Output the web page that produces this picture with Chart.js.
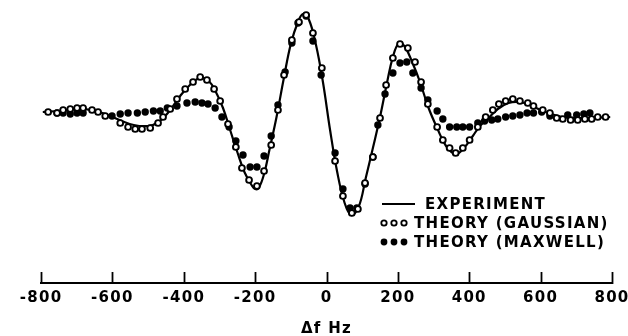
<!DOCTYPE html>
<html>
<head>
<meta charset="utf-8">
<script src="https://cdn.jsdelivr.net/npm/chart.js@4.4.1/dist/chart.umd.min.js"></script>
<style>
html,body{margin:0;padding:0;background:#fff;}
#c{display:block;}
</style>
</head>
<body>
<canvas id="c" width="628" height="336"></canvas>
<script>
// x tick labels (Hz)
const xTicks = [-800, -600, -400, -200, 0, 200, 400, 600, 800];

// Experiment (solid line)
const expHz = [-795,-750,-700,-660,-620,-580,-540,-500,-470,-440,-410,-380,-354,-330,-310,-290,-270,-250,-230,-210,-200,-190,-175,-160,-140,-120,-100,-80,-66,-50,-30,-10,10,30,50,69,90,110,130,150,170,186,203,220,240,262,285,310,335,362,385,410,430,457,480,510,540,570,600,630,660,700,740,795];
const expVal = [0,1,3,2,-2,-8,-13,-14,-10,1,16,28,34,31,20,4,-18,-40,-60,-73,-77,-76,-62,-38,-5,33,68,90,98,93,68,30,-18,-60,-90,-103,-95,-66,-36,-5,30,55,69,65,50,30,5,-16,-34,-42,-36,-24,-14,-5,3,9,10,7,2,-2,-5,-6,-6,-5];

// Theory (Gaussian) – open circles
const gaussHz = [-780,-755,-738,-718,-699,-682,-657,-640,-620,-578,-556,-536,-517,-494,-472,-458,-438,-419,-396,-374,-354,-335,-315,-298,-276,-254,-237,-217,-195,-175,-155,-136,-119,-97,-77,-57,-38,-13,24,46,71,88,108,130,150,167,186,206,228,248,265,284,310,326,345,362,382,401,424,446,466,483,502,522,542,564,580,606,626,645,662,684,704,724,743,760,782];
const gaussVal = [0,-1,2,3,4,4,2,0,-4,-11,-15,-17,-17,-16,-11,-5,3,13,23,30,35,32,23,11,-12,-35,-56,-68,-74,-59,-33,2,37,72,90,97,79,44,-49,-84,-101,-97,-71,-45,-6,27,54,68,64,50,30,8,-15,-28,-36,-41,-36,-28,-15,-5,2,8,11,13,11,9,6,2,-1,-6,-7,-8,-8,-7,-7,-5,-5];

// Theory (Maxwell) – filled circles
const maxHz = [-755,-738,-718,-699,-682,-601,-578,-556,-530,-508,-485,-466,-446,-419,-391,-368,-349,-332,-312,-293,-273,-254,-234,-214,-195,-175,-155,-136,-116,-97,-80,-57,-38,-15,24,46,66,85,108,130,144,164,186,206,225,242,265,284,310,326,345,365,382,401,424,443,463,480,502,522,542,562,580,603,626,676,701,721,738];
const maxVal = [-1,-1,-2,-1,-1,-4,-2,-1,-1,0,1,1,4,6,9,10,9,8,4,-5,-15,-29,-43,-55,-55,-44,-24,7,40,69,89,96,71,37,-41,-77,-96,-96,-72,-45,-13,18,39,49,50,39,24,12,1,-7,-15,-15,-15,-15,-11,-9,-8,-7,-5,-4,-3,-1,-1,0,-4,-3,-3,-2,-1];

const legendLabels = ['EXPERIMENT', 'THEORY (GAUSSIAN)', 'THEORY (MAXWELL)'];
const axisTitle = 'Δf Hz';

const pts = (xs, ys) => xs.map((x, i) => ({x: x, y: ys[i]}));
const FONT = 'DejaVu Sans';
const SPACING = '1.3px';

const spacingPlugin = {
  id: 'spacing',
  beforeUpdate(chart){ chart.ctx.letterSpacing = SPACING; },
  beforeLayout(chart){ chart.ctx.letterSpacing = SPACING; },
  beforeDraw(chart){ chart.ctx.letterSpacing = SPACING; }
};

const decorPlugin = {
  id: 'decor',
  afterDraw(chart){
    const ctx = chart.ctx;
    const xs = chart.scales.x;
    ctx.save();
    ctx.strokeStyle = '#000';
    ctx.lineWidth = 1.8;
    // inward (upward) tick marks
    xTicks.forEach(v => {
      const px = Math.round(xs.getPixelForValue(v)) + 0.5;
      ctx.beginPath();
      ctx.moveTo(px, xs.top - 11);
      ctx.lineTo(px, xs.top + 1);
      ctx.stroke();
    });
    // legend
    ctx.letterSpacing = SPACING;
    ctx.fillStyle = '#000';
    ctx.font = 'bold 15px "' + FONT + '"';
    ctx.textBaseline = 'middle';
    ctx.textAlign = 'left';
    const rows = [204, 223, 242];
    ctx.lineWidth = 2;
    ctx.beginPath();
    ctx.moveTo(382, rows[0]);
    ctx.lineTo(415, rows[0]);
    ctx.stroke();
    ctx.fillText(legendLabels[0], 425, rows[0] + 1);
    [384, 394, 404].forEach(cx => {
      ctx.beginPath();
      ctx.arc(cx, rows[1], 2.7, 0, Math.PI * 2);
      ctx.fillStyle = '#fff';
      ctx.fill();
      ctx.lineWidth = 1.8;
      ctx.stroke();
      ctx.beginPath();
      ctx.arc(cx, rows[2], 3.4, 0, Math.PI * 2);
      ctx.fillStyle = '#000';
      ctx.fill();
    });
    ctx.fillStyle = '#000';
    ctx.fillText(legendLabels[1], 414, rows[1] + 1);
    ctx.fillText(legendLabels[2], 414, rows[2] + 1);
    ctx.restore();
  }
};

new Chart(document.getElementById('c'), {
  type: 'scatter',
  data: {
    datasets: [
      {
        label: legendLabels[1],
        data: pts(gaussHz, gaussVal),
        showLine: false,
        pointRadius: 2.9,
        pointBorderWidth: 1.9,
        pointBackgroundColor: '#fff',
        pointBorderColor: '#000'
      },
      {
        label: legendLabels[2],
        data: pts(maxHz, maxVal),
        showLine: false,
        pointRadius: 3.7,
        pointBorderWidth: 0,
        pointBackgroundColor: '#000',
        pointBorderColor: '#000'
      },
      {
        label: legendLabels[0],
        data: pts(expHz, expVal),
        showLine: true,
        tension: 0.4,
        borderColor: '#000',
        borderWidth: 2.2,
        pointRadius: 0
      }
    ]
  },
  options: {
    responsive: false,
    animation: false,
    devicePixelRatio: 1,
    layout: { autoPadding: false, padding: { left: 41, right: 16, top: 0, bottom: 0 } },
    plugins: { legend: { display: false }, tooltip: { enabled: false } },
    scales: {
      y: { display: false, min: -171, max: 112 },
      x: {
        type: 'linear',
        min: -800, max: 800,
        afterBuildTicks: (s) => { s.ticks = xTicks.map(v => ({value: v})); },
        grid: { display: false, drawTicks: false },
        border: { display: true, color: '#000', width: 2 },
        ticks: {
          color: '#000',
          padding: 6,
          maxRotation: 0,
          autoSkip: false,
          font: { family: FONT, weight: 'bold', size: 15 },
          callback: (v) => String(v)
        },
        title: {
          display: true,
          text: axisTitle,
          color: '#000',
          font: { family: FONT, weight: 'bold', size: 15 },
          padding: { top: 0, bottom: -2 }
        },
        afterFit: (s) => { s.height = 53; s.paddingLeft = 0; s.paddingRight = 0; }
      }
    }
  },
  plugins: [spacingPlugin, decorPlugin]
});
</script>
</body>
</html>
